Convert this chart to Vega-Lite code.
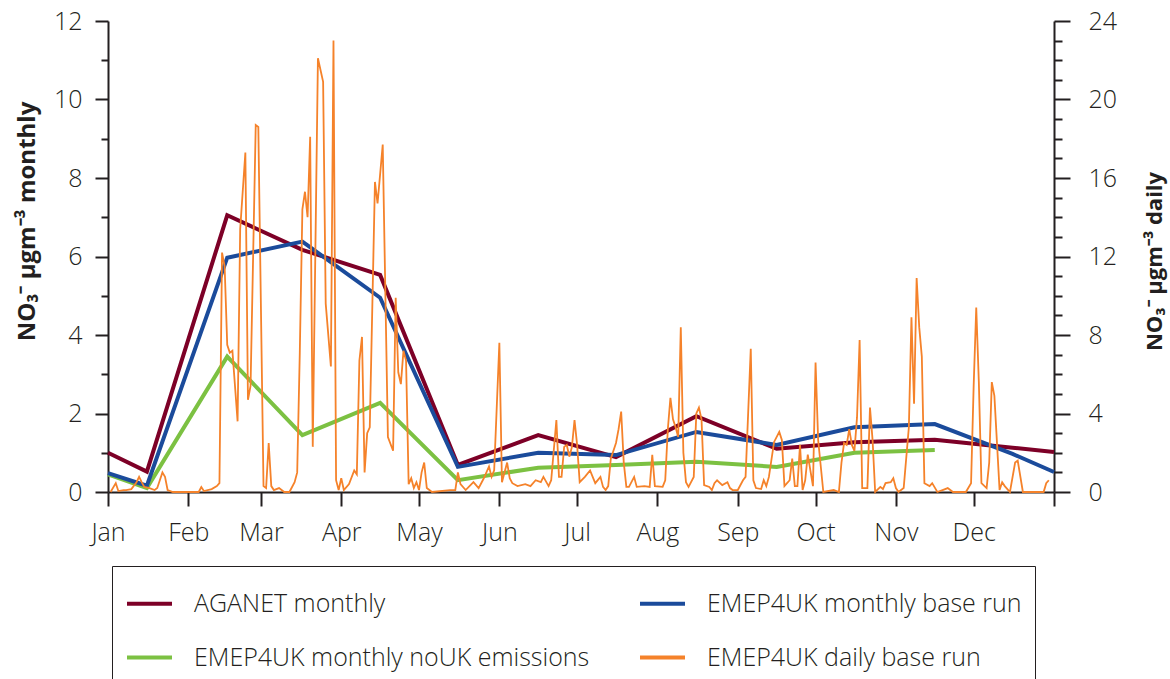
{
  "$schema": "https://vega.github.io/schema/vega-lite/v6.json",
  "width": 946,
  "height": 471,
  "autosize": {"type": "none"},
  "padding": {"left": 108, "top": 21, "right": 116, "bottom": 187},
  "background": "white",
  "config": {
    "view": {"stroke": null},
    "font": "Open Sans",
    "axis": {
      "domainColor": "#231f20", "domainWidth": 2,
      "tickColor": "#231f20", "tickWidth": 2,
      "labelColor": "#231f20", "labelFont": "Open Sans", "labelFontSize": 25, "labelFontWeight": 300,
      "grid": false,
      "titleFont": "Open Sans", "titleFontSize": 24, "titleFontWeight": "bold", "titleColor": "#231f20"
    }
  },
  "datasets": {
    "monthly": [
      {"series": "AGANET monthly", "day": 0, "v": 1.0},
      {"series": "AGANET monthly", "day": 15, "v": 0.52},
      {"series": "AGANET monthly", "day": 46, "v": 7.05},
      {"series": "AGANET monthly", "day": 75, "v": 6.17},
      {"series": "AGANET monthly", "day": 105, "v": 5.53},
      {"series": "AGANET monthly", "day": 135, "v": 0.69},
      {"series": "AGANET monthly", "day": 166, "v": 1.45},
      {"series": "AGANET monthly", "day": 196, "v": 0.89},
      {"series": "AGANET monthly", "day": 227, "v": 1.93},
      {"series": "AGANET monthly", "day": 258, "v": 1.1},
      {"series": "AGANET monthly", "day": 288, "v": 1.27},
      {"series": "AGANET monthly", "day": 319, "v": 1.33},
      {"series": "AGANET monthly", "day": 349, "v": 1.13},
      {"series": "AGANET monthly", "day": 365, "v": 1.02},
      {"series": "EMEP4UK monthly noUK emissions", "day": 0, "v": 0.45},
      {"series": "EMEP4UK monthly noUK emissions", "day": 15, "v": 0.1},
      {"series": "EMEP4UK monthly noUK emissions", "day": 46, "v": 3.45},
      {"series": "EMEP4UK monthly noUK emissions", "day": 75, "v": 1.45},
      {"series": "EMEP4UK monthly noUK emissions", "day": 105, "v": 2.27},
      {"series": "EMEP4UK monthly noUK emissions", "day": 135, "v": 0.3},
      {"series": "EMEP4UK monthly noUK emissions", "day": 166, "v": 0.62},
      {"series": "EMEP4UK monthly noUK emissions", "day": 196, "v": 0.69},
      {"series": "EMEP4UK monthly noUK emissions", "day": 227, "v": 0.77},
      {"series": "EMEP4UK monthly noUK emissions", "day": 258, "v": 0.64},
      {"series": "EMEP4UK monthly noUK emissions", "day": 288, "v": 1.0},
      {"series": "EMEP4UK monthly noUK emissions", "day": 319, "v": 1.07},
      {"series": "EMEP4UK monthly base run", "day": 0, "v": 0.48},
      {"series": "EMEP4UK monthly base run", "day": 15, "v": 0.16},
      {"series": "EMEP4UK monthly base run", "day": 46, "v": 5.97},
      {"series": "EMEP4UK monthly base run", "day": 75, "v": 6.38},
      {"series": "EMEP4UK monthly base run", "day": 105, "v": 4.95},
      {"series": "EMEP4UK monthly base run", "day": 135, "v": 0.64},
      {"series": "EMEP4UK monthly base run", "day": 166, "v": 1.0},
      {"series": "EMEP4UK monthly base run", "day": 196, "v": 0.94},
      {"series": "EMEP4UK monthly base run", "day": 227, "v": 1.53},
      {"series": "EMEP4UK monthly base run", "day": 258, "v": 1.2},
      {"series": "EMEP4UK monthly base run", "day": 288, "v": 1.65},
      {"series": "EMEP4UK monthly base run", "day": 319, "v": 1.73},
      {"series": "EMEP4UK monthly base run", "day": 349, "v": 0.97},
      {"series": "EMEP4UK monthly base run", "day": 365, "v": 0.51}
    ],
    "daily": [
      {"day": 1, "v": 0}, {"day": 3, "v": 0.45}, {"day": 4, "v": 0.05}, {"day": 6, "v": 0.1}, {"day": 7, "v": 0.1},
      {"day": 9, "v": 0.15}, {"day": 11, "v": 0.5}, {"day": 12, "v": 0.77}, {"day": 13, "v": 0.5}, {"day": 14, "v": 0.26},
      {"day": 16, "v": 0.2}, {"day": 18, "v": 0.1}, {"day": 19, "v": 0.2}, {"day": 20, "v": 0.6}, {"day": 21, "v": 1.0},
      {"day": 22, "v": 0.77}, {"day": 23, "v": 0.1}, {"day": 25, "v": 0}, {"day": 33, "v": 0}, {"day": 35, "v": 0},
      {"day": 36, "v": 0.25}, {"day": 37, "v": 0.05}, {"day": 40, "v": 0.15}, {"day": 42, "v": 0.3}, {"day": 43, "v": 0.45},
      {"day": 44, "v": 12.2}, {"day": 45, "v": 11.5}, {"day": 46, "v": 7.5}, {"day": 47, "v": 7.1}, {"day": 48, "v": 7.2},
      {"day": 50, "v": 3.6}, {"day": 51, "v": 13.4}, {"day": 53, "v": 17.3}, {"day": 54, "v": 4.7}, {"day": 55, "v": 5.4},
      {"day": 57, "v": 18.7}, {"day": 58, "v": 18.6}, {"day": 60, "v": 0.3}, {"day": 61, "v": 0.2}, {"day": 62, "v": 2.5},
      {"day": 63, "v": 0.3}, {"day": 64, "v": 0.1}, {"day": 66, "v": 0.2}, {"day": 68, "v": 0}, {"day": 70, "v": 0},
      {"day": 72, "v": 0.5}, {"day": 73, "v": 1.0}, {"day": 74, "v": 7.1}, {"day": 75, "v": 14.4}, {"day": 76, "v": 15.3},
      {"day": 77, "v": 14.0}, {"day": 78, "v": 18.1}, {"day": 79, "v": 2.3}, {"day": 81, "v": 22.1}, {"day": 83, "v": 20.9},
      {"day": 84, "v": 9.6}, {"day": 86, "v": 6.4}, {"day": 87, "v": 23.0}, {"day": 88, "v": 0.6}, {"day": 89, "v": 0.1},
      {"day": 90, "v": 0.7}, {"day": 91, "v": 0.1}, {"day": 93, "v": 0.4}, {"day": 95, "v": 1.1}, {"day": 96, "v": 0.9},
      {"day": 97, "v": 6.7}, {"day": 98, "v": 7.9}, {"day": 99, "v": 1.0}, {"day": 100, "v": 3.0}, {"day": 101, "v": 3.3},
      {"day": 103, "v": 15.8}, {"day": 104, "v": 14.7}, {"day": 106, "v": 17.7}, {"day": 108, "v": 2.8}, {"day": 110, "v": 2.1},
      {"day": 111, "v": 9.9}, {"day": 112, "v": 6.1}, {"day": 113, "v": 5.5}, {"day": 114, "v": 7.2}, {"day": 115, "v": 6.7},
      {"day": 116, "v": 0.4}, {"day": 117, "v": 0.7}, {"day": 118, "v": 0.2}, {"day": 119, "v": 0.5}, {"day": 120, "v": 0.1},
      {"day": 121, "v": 1.0}, {"day": 122, "v": 1.5}, {"day": 123, "v": 0.2}, {"day": 125, "v": 0}, {"day": 132, "v": 0.1},
      {"day": 134, "v": 0.1}, {"day": 135, "v": 1.0}, {"day": 136, "v": 0.4}, {"day": 138, "v": 0.1}, {"day": 141, "v": 0.5},
      {"day": 143, "v": 0.2}, {"day": 145, "v": 0.7}, {"day": 147, "v": 1.3}, {"day": 148, "v": 0.77}, {"day": 149, "v": 1.1},
      {"day": 151, "v": 7.6}, {"day": 152, "v": 0.5}, {"day": 154, "v": 1.5}, {"day": 155, "v": 0.7}, {"day": 156, "v": 0.45},
      {"day": 158, "v": 0.3}, {"day": 161, "v": 0.4}, {"day": 163, "v": 0.3}, {"day": 165, "v": 0.6}, {"day": 167, "v": 0.5},
      {"day": 168, "v": 0.77}, {"day": 170, "v": 0.3}, {"day": 171, "v": 0.6}, {"day": 173, "v": 3.67}, {"day": 174, "v": 0.77},
      {"day": 175, "v": 0.77}, {"day": 176, "v": 2.3}, {"day": 177, "v": 2.4}, {"day": 178, "v": 1.8}, {"day": 179, "v": 2.3},
      {"day": 180, "v": 3.67}, {"day": 181, "v": 2.4}, {"day": 182, "v": 0.5}, {"day": 184, "v": 0.77}, {"day": 186, "v": 1.1},
      {"day": 188, "v": 0.45}, {"day": 190, "v": 0.77}, {"day": 191, "v": 0.26}, {"day": 192, "v": 0.1}, {"day": 193, "v": 0.3},
      {"day": 194, "v": 1.7}, {"day": 196, "v": 2.5}, {"day": 197, "v": 3.2}, {"day": 198, "v": 4.1}, {"day": 199, "v": 1.5},
      {"day": 200, "v": 0.26}, {"day": 201, "v": 0.26}, {"day": 203, "v": 0.77}, {"day": 204, "v": 0.26}, {"day": 207, "v": 0.3},
      {"day": 209, "v": 0.26}, {"day": 210, "v": 1.9}, {"day": 211, "v": 0.3}, {"day": 214, "v": 0.26}, {"day": 215, "v": 0.6},
      {"day": 216, "v": 3.2}, {"day": 217, "v": 4.8}, {"day": 218, "v": 3.7}, {"day": 219, "v": 3.3}, {"day": 220, "v": 2.8},
      {"day": 221, "v": 8.4}, {"day": 222, "v": 2.0}, {"day": 223, "v": 0.5}, {"day": 224, "v": 0.26}, {"day": 226, "v": 0.77},
      {"day": 227, "v": 4.0}, {"day": 228, "v": 4.3}, {"day": 229, "v": 3.7}, {"day": 230, "v": 0.35}, {"day": 232, "v": 0.26},
      {"day": 233, "v": 0.1}, {"day": 234, "v": 0.45}, {"day": 235, "v": 0.6}, {"day": 237, "v": 0.35}, {"day": 239, "v": 0.5},
      {"day": 240, "v": 0.2}, {"day": 241, "v": 0.1}, {"day": 243, "v": 0.1}, {"day": 245, "v": 0.6}, {"day": 246, "v": 0.77},
      {"day": 248, "v": 7.3}, {"day": 249, "v": 0.6}, {"day": 250, "v": 0.2}, {"day": 252, "v": 0.15}, {"day": 253, "v": 0.6},
      {"day": 254, "v": 0.3}, {"day": 255, "v": 0.77}, {"day": 257, "v": 2.55}, {"day": 259, "v": 3.06}, {"day": 260, "v": 2.65},
      {"day": 261, "v": 0.3}, {"day": 262, "v": 0.45}, {"day": 263, "v": 0.6}, {"day": 264, "v": 1.7}, {"day": 265, "v": 0.3},
      {"day": 266, "v": 0.3}, {"day": 267, "v": 2.4}, {"day": 268, "v": 0.1}, {"day": 269, "v": 0.6}, {"day": 270, "v": 1.9},
      {"day": 271, "v": 1.1}, {"day": 272, "v": 0.3}, {"day": 273, "v": 6.6}, {"day": 274, "v": 2.65}, {"day": 276, "v": 0},
      {"day": 280, "v": 0.1}, {"day": 282, "v": 0}, {"day": 283, "v": 1.5}, {"day": 284, "v": 2.5}, {"day": 285, "v": 2.4},
      {"day": 286, "v": 3.2}, {"day": 287, "v": 2.4}, {"day": 288, "v": 2.1}, {"day": 289, "v": 3.8}, {"day": 290, "v": 7.75},
      {"day": 291, "v": 0.2}, {"day": 293, "v": 0.2}, {"day": 294, "v": 4.3}, {"day": 295, "v": 2.65}, {"day": 296, "v": 0},
      {"day": 298, "v": 0.26}, {"day": 299, "v": 0.15}, {"day": 300, "v": 0.45}, {"day": 302, "v": 0.5}, {"day": 303, "v": 0.7},
      {"day": 304, "v": 0.2}, {"day": 305, "v": 0}, {"day": 307, "v": 0.2}, {"day": 309, "v": 3.3}, {"day": 310, "v": 8.9},
      {"day": 311, "v": 4.5}, {"day": 312, "v": 10.9}, {"day": 313, "v": 8.4}, {"day": 314, "v": 6.9}, {"day": 315, "v": 0.45},
      {"day": 317, "v": 0.3}, {"day": 318, "v": 0.45}, {"day": 320, "v": 0}, {"day": 322, "v": 0.1}, {"day": 324, "v": 0.2},
      {"day": 326, "v": 0}, {"day": 331, "v": 0}, {"day": 333, "v": 0.45}, {"day": 334, "v": 5.4}, {"day": 335, "v": 9.4},
      {"day": 336, "v": 5.6}, {"day": 337, "v": 0.45}, {"day": 339, "v": 0.2}, {"day": 340, "v": 1.5}, {"day": 341, "v": 5.6},
      {"day": 342, "v": 4.9}, {"day": 344, "v": 0.1}, {"day": 345, "v": 0.5}, {"day": 346, "v": 0.3}, {"day": 348, "v": 0},
      {"day": 350, "v": 1.5}, {"day": 351, "v": 1.6}, {"day": 353, "v": 0}, {"day": 361, "v": 0}, {"day": 362, "v": 0.45},
      {"day": 363, "v": 0.6}
    ]
  },
  "layer": [
    {
      "data": {"name": "monthly"},
      "mark": {"type": "line", "strokeWidth": 4, "strokeJoin": "miter", "clip": false},
      "encoding": {
        "x": {
          "field": "day", "type": "quantitative",
          "scale": {"domain": [0, 365], "nice": false, "zero": false},
          "axis": {
            "orient": "bottom", "title": null,
            "values": [0, 31, 59, 90, 120, 151, 181, 212, 243, 273, 304, 334, 365],
            "labelExpr": "['Jan','Feb','Mar','Apr','May','Jun','Jul','Aug','Sep','Oct','Nov','Dec',''][indexof([0,31,59,90,120,151,181,212,243,273,304,334,365], datum.value)]",
            "tickSize": 14, "labelPadding": 14, "labelFlush": false, "labelOverlap": false
          }
        },
        "y": {
          "field": "v", "type": "quantitative",
          "scale": {"domain": [0, 12], "nice": false},
          "axis": {
            "orient": "left",
            "title": "NO₃⁻ µgm⁻³ monthly",
            "values": [0, 0.5, 1, 1.5, 2, 2.5, 3, 3.5, 4, 4.5, 5, 5.5, 6, 6.5, 7, 7.5, 8, 8.5, 9, 9.5, 10, 10.5, 11, 11.5, 12],
            "format": "d",
            "labelExpr": "datum.value % 2 === 0 ? datum.label : ''",
            "tickSize": {"condition": {"test": "datum.value % 2 === 0", "value": 13}, "value": 7},
            "labelPadding": 13, "labelOverlap": false, "labelFlush": false,
            "titleAngle": -90, "titleX": -81, "titleY": 200, "titleAlign": "center", "titleBaseline": "middle"
          }
        },
        "color": {
          "field": "series", "type": "nominal",
          "scale": {
            "domain": ["AGANET monthly", "EMEP4UK monthly noUK emissions", "EMEP4UK monthly base run", "EMEP4UK daily base run"],
            "range": ["#7d0027", "#7cc142", "#1b4b9b", "#f5822a"]
          },
          "legend": {
            "orient": "none", "legendX": 4, "legendY": 545,
            "columns": 2, "title": null,
            "symbolType": "stroke", "symbolSize": 2025, "symbolStrokeWidth": 4,
            "labelFont": "Open Sans", "labelFontSize": 25, "labelFontWeight": 300, "labelColor": "#231f20",
            "labelOffset": 20, "labelLimit": 700,
            "columnPadding": 42, "rowPadding": 16, "padding": 13,
            "strokeColor": "#231f20", "fillColor": "white"
          }
        }
      }
    },
    {
      "data": {"name": "daily"},
      "mark": {"type": "line", "strokeWidth": 1.8, "strokeJoin": "miter", "clip": false},
      "encoding": {
        "x": {"field": "day", "type": "quantitative"},
        "y": {
          "field": "v", "type": "quantitative",
          "scale": {"domain": [0, 24], "nice": false},
          "axis": {
            "orient": "right",
            "title": "NO₃⁻ µgm⁻³ daily",
            "values": [0, 1, 2, 3, 4, 5, 6, 7, 8, 9, 10, 11, 12, 13, 14, 15, 16, 17, 18, 19, 20, 21, 22, 23, 24],
            "format": "d",
            "labelExpr": "datum.value % 4 === 0 ? datum.label : ''",
            "tickSize": {"condition": {"test": "datum.value % 4 === 0", "value": 16}, "value": 8},
            "labelPadding": 18, "labelOverlap": false, "labelFlush": false,
            "titleFontSize": 22,
            "titleAngle": -90, "titleX": 100, "titleY": 240, "titleAlign": "center", "titleBaseline": "middle"
          }
        },
        "color": {"datum": "EMEP4UK daily base run"}
      }
    }
  ],
  "resolve": {"scale": {"y": "independent"}}
}
